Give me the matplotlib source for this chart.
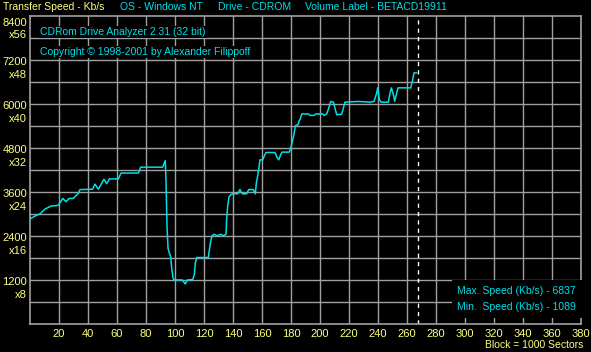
import matplotlib
matplotlib.use('Agg')

import matplotlib.pyplot as plt

# transfer speed curve (block in 1000 sectors, Kb/s)
blocks = [0, 3.4, 6.9, 10.3, 14.5, 19.5, 22.6, 24.8, 27.1, 29.9, 33.3, 34.5,
          43.2, 44.8, 47.1, 51.0, 52.9, 54.7, 60.9, 62.8, 74.7, 76.3, 91.5,
          93.3, 93.8, 94.5, 95.2, 96.1, 97.0, 97.7, 98.6, 99.3, 105.0, 107.1,
          108.5, 112.2, 113.3, 114.0, 115.0, 123.0, 123.7, 124.6, 125.5,
          126.9, 129.2, 131.5, 133.3, 135.2, 135.6, 136.3, 137.2, 138.4,
          139.8, 143.2, 144.8, 146.4, 149.4, 150.8, 154.0, 155.4, 156.1,
          157.0, 158.0, 158.6, 160.5, 161.4, 162.8, 169.0, 170.1, 171.5,
          172.9, 173.8, 178.8, 180.2, 181.2, 182.1, 183.0, 185.0, 185.7,
          186.2, 187.4, 191.9, 193.1, 195.9, 197.2, 201.9, 202.8, 204.6,
          205.7, 207.4, 209.2, 210.3, 211.5, 214.9, 216.1, 217.2, 226.4,
          234.5, 237.2, 239.1, 239.8, 240.9, 242.1, 247.1, 248.3, 249.2,
          250.6, 251.5, 252.9, 253.8, 262.6, 263.7, 264.8, 266.0, 266.7]
speeds = [2860, 2940, 3000, 3130, 3210, 3230, 3420, 3330, 3420, 3420, 3560, 3660,
          3670, 3810, 3670, 3940, 3820, 3950, 3950, 4110, 4110, 4270, 4270,
          4450, 3880, 2650, 2060, 1930, 1840, 1520, 1270, 1200, 1200, 1089,
          1200, 1210, 1340, 1655, 1810, 1810, 2020, 2245, 2400,
          2445, 2400, 2445, 2400, 2445, 2840, 3200, 3455, 3520,
          3545, 3545, 3660, 3545, 3545, 3660, 3660, 3545, 3840,
          4020, 4290, 4470, 4470, 4560, 4670, 4670, 4560, 4470,
          4610, 4680, 4680, 4840, 5020, 5180, 5400, 5430, 5545,
          5563, 5720, 5720, 5680, 5680, 5720, 5720, 5680, 5720,
          5840, 6060, 6040, 5880, 5700, 5710, 5880, 6040, 6060,
          6040, 6060, 6290, 6430, 6110, 6040, 6040, 6290, 6430,
          6250, 6060, 6290, 6430, 6430, 6610, 6837, 6837, 6837]

x_ticks = list(range(20, 381, 20))
y_ticks = list(range(1200, 8401, 1200))
end_block = 267.8
max_speed = 6837
min_speed = 1089

YELLOW = '#ffff80'
CYAN = '#00e0e8'
GRID = '#a0a0a0'

plt.rcParams['font.family'] = ['Liberation Sans', 'DejaVu Sans']
plt.rcParams['font.size'] = 7.5

W, H = 591, 352
fig = plt.figure(figsize=(W / 100, H / 100), dpi=100, facecolor='black')
ax = fig.add_axes([30 / W, (H - 324) / H, 551 / W, (324 - 15.5) / H])
ax.set_facecolor('black')

ax.set_xlim(0, 380)
ax.set_ylim(0, 8400)
ax.set_xticks(x_ticks)
ax.set_xticklabels([str(t) for t in x_ticks])
ax.set_yticks(range(600, 8400, 600))
ax.set_yticklabels([])
ax.tick_params(length=0, colors=YELLOW, labelsize=8)
ax.tick_params(axis='x', pad=3.5)
for s in ax.spines.values():
    s.set_color(GRID)
    s.set_linewidth(1.2)
ax.grid(color=GRID, linewidth=1.0)
ax.set_axisbelow(True)

ax.plot(blocks, speeds, color=CYAN, linewidth=1.1, zorder=3)
ax.axvline(end_block, color='white', linewidth=1.0, linestyle=(0, (3, 3)), zorder=2)

# y labels: speed plus CD multiplier
for v in y_ticks:
    top = -5 if v == 8400 else 0
    ax.annotate(str(v), xy=(0, v), xycoords=ax.get_yaxis_transform(),
                xytext=(-3, -2 + top), textcoords='offset pixels',
                ha='right', va='center', color=YELLOW, fontsize=8,
                annotation_clip=False)
    ax.annotate('x%d' % (v // 150), xy=(0, v), xycoords=ax.get_yaxis_transform(),
                xytext=(-3, -15 + top), textcoords='offset pixels',
                ha='right', va='center', color=YELLOW, fontsize=8,
                annotation_clip=False)

def px(x, y):
    return x / W, 1 - y / H

fig.text(*px(3, 7), 'Transfer Speed - Kb/s', color=YELLOW, va='center')
fig.text(*px(120, 7), 'OS - Windows NT', color=CYAN, va='center')
fig.text(*px(218, 7), 'Drive - CDROM', color=CYAN, va='center')
fig.text(*px(305, 7), 'Volume Label - BETACD19911', color=CYAN, va='center')
fig.text(*px(583, 345), 'Block = 1000 Sectors', color=YELLOW, ha='right', va='center')

box = dict(facecolor='black', edgecolor='none', pad=1)
fig.text(*px(40, 32), 'CDRom Drive Analyzer 2.31 (32 bit)', color=CYAN,
         va='center', bbox=box)
fig.text(*px(40, 52), 'Copyright \u00a9 1998-2001 by Alexander Filippoff', color=CYAN,
         va='center', bbox=box)
fig.text(*px(576, 299), 'Max. Speed (Kb/s) - %d\nMin.  Speed (Kb/s) - %d' % (max_speed, min_speed),
         color=CYAN, ha='right', va='center', multialignment='right',
         linespacing=1.85, bbox=dict(facecolor='black', edgecolor='none', pad=4))

fig.savefig('out.png', dpi=100, facecolor='black')
plt.close(fig)
